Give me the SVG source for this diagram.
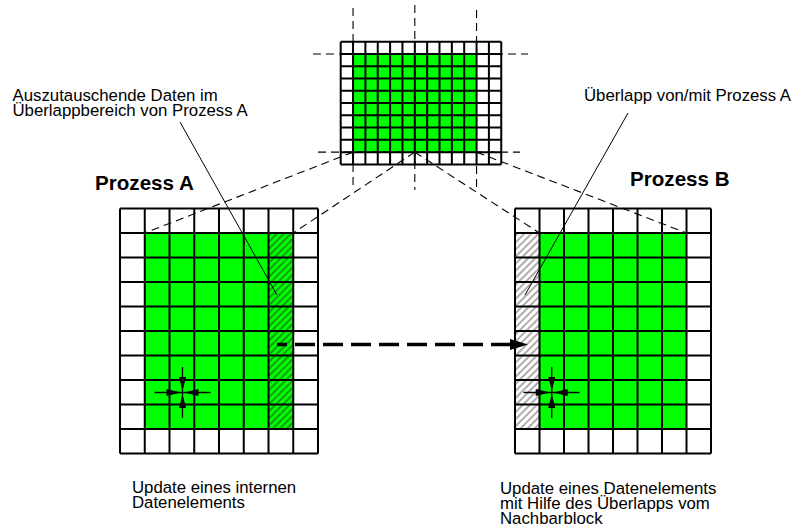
<svg xmlns="http://www.w3.org/2000/svg" width="801" height="531" viewBox="0 0 801 531">
  <style>
    .txt { font-family: "Liberation Sans", Arial, sans-serif; font-size: 16.8px; fill: #000; }
    .title { font-family: "Liberation Sans", Arial, sans-serif; font-size: 20.6px; font-weight: bold; fill: #000; }
    .grid { fill: none; stroke: #000; stroke-width: 2; }
    .green { fill: #00ff00; }
    .dash { fill: none; stroke: #000; stroke-width: 1.1; stroke-dasharray: 8 5; }
    .lead { fill: none; stroke: #000; stroke-width: 1; }
    .stencil { stroke: #000; stroke-width: 1.3; fill: none; }
    .tip { fill: #000; stroke: none; }
  </style>
  <defs>
    <pattern id="hatchDark" patternUnits="userSpaceOnUse" width="5" height="5" patternTransform="rotate(45)">
      <rect width="5" height="5" fill="#00ff00"/>
      <line x1="1" y1="0" x2="1" y2="5" stroke="#1a5a1a" stroke-width="1.2"/>
    </pattern>
    <pattern id="hatchGray" patternUnits="userSpaceOnUse" width="5" height="5" patternTransform="rotate(45)">
      <rect width="5" height="5" fill="#ffffff"/>
      <line x1="1" y1="0" x2="1" y2="5" stroke="#777" stroke-width="1.2"/>
    </pattern>
  </defs>

  <rect width="801" height="531" fill="#fff"/>

  <!-- global domain, 13 x 10 cells, split into two blocks -->
  <g id="global-grid">
    <rect x="340.7" y="41.7" width="160.55" height="122.7" fill="#fff"/>
    <rect class="green" x="353.05" y="53.97" width="123.5" height="98.16"/>
    <path class="grid" d="M340.7 41.7V164.4M353.05 41.7V164.4M365.4 41.7V164.4M377.75 41.7V164.4M390.1 41.7V164.4M402.45 41.7V164.4M414.8 41.7V164.4M427.15 41.7V164.4M439.5 41.7V164.4M451.85 41.7V164.4M464.2 41.7V164.4M476.55 41.7V164.4M488.9 41.7V164.4M501.25 41.7V164.4
      M340.7 41.7H501.25M340.7 53.97H501.25M340.7 66.24H501.25M340.7 78.51H501.25M340.7 90.78H501.25M340.7 103.05H501.25M340.7 115.32H501.25M340.7 127.59H501.25M340.7 139.86H501.25M340.7 152.13H501.25M340.7 164.4H501.25"/>
  </g>

  <!-- block of process A -->
  <g id="block-a">
    <rect x="120" y="208.5" width="198" height="245" fill="#fff"/>
    <rect class="green" x="144.75" y="233" width="123.75" height="196"/>
    <rect x="268.5" y="233" width="24.75" height="196" fill="url(#hatchDark)"/>
    <path class="grid" d="M120 208.5V453.5M144.75 208.5V453.5M169.5 208.5V453.5M194.25 208.5V453.5M219 208.5V453.5M243.75 208.5V453.5M268.5 208.5V453.5M293.25 208.5V453.5M318 208.5V453.5
      M120 208.5H318M120 233H318M120 257.5H318M120 282H318M120 306.5H318M120 331H318M120 355.5H318M120 380H318M120 404.5H318M120 429H318M120 453.5H318"/>
    <!-- 5-point stencil on an inner element -->
    <g id="stencil-a">
      <path class="stencil" d="M154.5 392.5H210.5M182.5 367V418"/>
      <polygon class="tip" points="166.5,389 166.5,396 181,392.5"/>
      <polygon class="tip" points="198.5,389 198.5,396 184,392.5"/>
      <polygon class="tip" points="179,377 186,377 182.5,391"/>
      <polygon class="tip" points="179,408 186,408 182.5,394"/>
    </g>
  </g>

  <!-- block of process B -->
  <g id="block-b">
    <rect x="515" y="208.5" width="196" height="245" fill="#fff"/>
    <rect class="green" x="539.5" y="233" width="147" height="196"/>
    <rect x="515" y="233" width="24.5" height="196" fill="url(#hatchGray)"/>
    <path class="grid" d="M515 208.5V453.5M539.5 208.5V453.5M564 208.5V453.5M588.5 208.5V453.5M613 208.5V453.5M637.5 208.5V453.5M662 208.5V453.5M686.5 208.5V453.5M711 208.5V453.5
      M515 208.5H711M515 233H711M515 257.5H711M515 282H711M515 306.5H711M515 331H711M515 355.5H711M515 380H711M515 404.5H711M515 429H711M515 453.5H711"/>
    <!-- 5-point stencil using the overlap cell -->
    <g id="stencil-b">
      <path class="stencil" d="M523.5 392.5H579.5M551.75 367V418"/>
      <polygon class="tip" points="535.75,389 535.75,396 550.25,392.5"/>
      <polygon class="tip" points="567.75,389 567.75,396 553.25,392.5"/>
      <polygon class="tip" points="548.25,377 555.25,377 551.75,391"/>
      <polygon class="tip" points="548.25,408 555.25,408 551.75,394"/>
    </g>
  </g>

  <g id="connectors">
    <!-- block boundaries in the global domain -->
    <path class="dash" d="M353.05 8V190M414.8 5V190M476.55 10V187M313 53.97H528M318 152.13H520"/>
    <!-- projection of the blocks onto the processes -->
    <path class="dash" d="M353.05 152.13L144.75 233M414.8 152.13L293.25 233M414.8 152.13L539.5 233M476.55 152.13L686.5 233"/>
    <!-- leader lines of the annotations -->
    <path class="lead" d="M180 122L277 295M628 113L525 295"/>
    <!-- data exchange A to B -->
    <line x1="277" y1="344.5" x2="512" y2="344.5" stroke="#000" stroke-width="3.5" stroke-dasharray="20 8" stroke-dashoffset="10"/>
    <polygon class="tip" points="510,339 510,350 528,344.5"/>
  </g>

  <g id="labels">
    <text class="txt" x="12.5" y="101">Auszutauschende Daten im</text>
    <text class="txt" x="12.5" y="116">Überlappbereich von Prozess A</text>
    <text class="txt" x="584" y="101">Überlapp von/mit Prozess A</text>
    <text class="title" x="95" y="190">Prozess A</text>
    <text class="title" x="630" y="186">Prozess B</text>
    <text class="txt" x="132" y="493">Update eines internen</text>
    <text class="txt" x="132" y="508">Datenelements</text>
    <text class="txt" x="500" y="494">Update eines Datenelements</text>
    <text class="txt" x="500" y="509">mit Hilfe des Überlapps vom</text>
    <text class="txt" x="500" y="524">Nachbarblock</text>
  </g>
</svg>
